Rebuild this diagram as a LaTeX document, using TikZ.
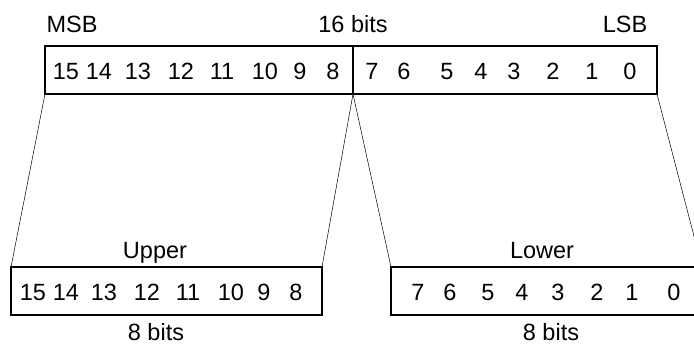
\documentclass[tikz,border=0pt]{standalone}
\usepackage{fontspec}
\setmainfont{Liberation Sans}
\begin{document}
\begin{tikzpicture}[x=1pt,y=-1pt,
        regbox/.style={draw, rectangle, line width=1.6pt, minimum height=48pt, inner sep=0pt, outer sep=0pt},
        bitnum/.style={anchor=base, inner sep=0pt, font=\fontsize{23.5}{28}\selectfont},
        caption/.style={anchor=base, inner sep=0pt, font=\fontsize{23.5}{28}\selectfont},
        fan/.style={draw, line width=0.5pt}]
        \useasboundingbox (0,0) rectangle (694,345);

        \node[regbox, minimum width=612pt] (word) at (351,70) {};
        \node[regbox, minimum width=311pt] (upper) at (166.5,291) {};
        \node[regbox, minimum width=311pt] (lower) at (546.5,291) {};

        \coordinate (divtop) at (353,46);
        \coordinate (divbot) at (353,94);
        \path[draw, line width=1.6pt] (divtop) -- (divbot);

        \node[caption] (msb) at (72,33) {MSB};
        \node[caption] (total) at (353,33) {16 bits};
        \node[caption] (lsb) at (625,33) {LSB};
        \node[caption] (uppername) at (155,258) {Upper};
        \node[caption] (lowername) at (542,258) {Lower};
        \node[caption] (upperbits) at (156,340) {8 bits};
        \node[caption] (lowerbits) at (551,340) {8 bits};

        \node[bitnum] (w15) at (66,80) {15};
        \node[bitnum] (w14) at (99,80) {14};
        \node[bitnum] (w13) at (138,80) {13};
        \node[bitnum] (w12) at (181,80) {12};
        \node[bitnum] (w11) at (222,80) {11};
        \node[bitnum] (w10) at (265,80) {10};
        \node[bitnum] (w9) at (300,80) {9};
        \node[bitnum] (w8) at (333,80) {8};
        \node[bitnum] (w7) at (372,80) {7};
        \node[bitnum] (w6) at (404,80) {6};
        \node[bitnum] (w5) at (447,80) {5};
        \node[bitnum] (w4) at (481,80) {4};
        \node[bitnum] (w3) at (514,80) {3};
        \node[bitnum] (w2) at (553,80) {2};
        \node[bitnum] (w1) at (592,80) {1};
        \node[bitnum] (w0) at (630,80) {0};

        \node[bitnum] (u15) at (33,300) {15};
        \node[bitnum] (u14) at (66,300) {14};
        \node[bitnum] (u13) at (104,300) {13};
        \node[bitnum] (u12) at (147,300) {12};
        \node[bitnum] (u11) at (188,300) {11};
        \node[bitnum] (u10) at (231,300) {10};
        \node[bitnum] (u9) at (264,300) {9};
        \node[bitnum] (u8) at (296,300) {8};

        \node[bitnum] (l7) at (418,300) {7};
        \node[bitnum] (l6) at (450,300) {6};
        \node[bitnum] (l5) at (488,300) {5};
        \node[bitnum] (l4) at (522,300) {4};
        \node[bitnum] (l3) at (558,300) {3};
        \node[bitnum] (l2) at (597,300) {2};
        \node[bitnum] (l1) at (632,300) {1};
        \node[bitnum] (l0) at (674,300) {0};

        \path[fan] (word.south west) -- (upper.north west);
        \path[fan] (divbot) -- (upper.north east);
        \path[fan] (divbot) -- (lower.north west);
        \path[fan] (word.south east) -- (lower.north east);
    \end{tikzpicture}
\end{document}
